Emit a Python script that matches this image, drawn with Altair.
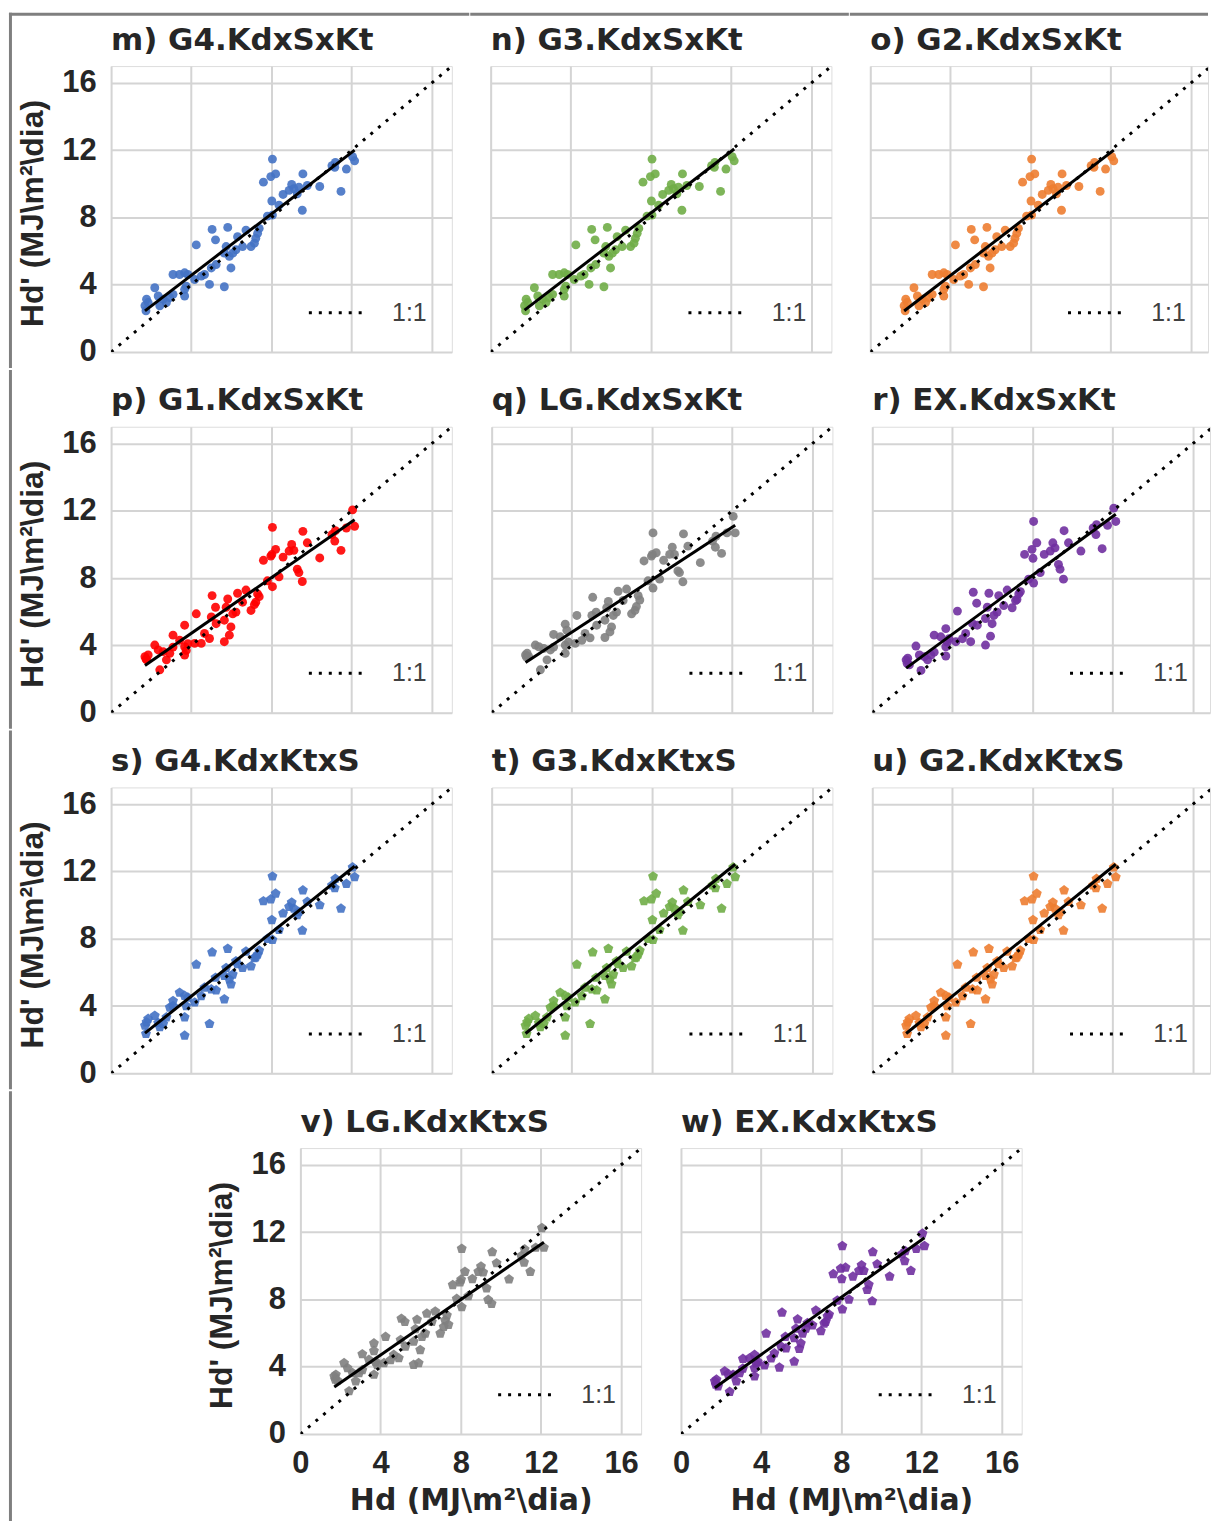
import altair as alt
import pandas as pd

# Observed daily diffuse irradiation Hd (MJ/m2/day), shared by every panel
hd_obs = [1.69, 1.74, 1.77, 1.85, 2.18, 2.35, 2.43, 2.60, 2.76, 2.93,
          3.09, 3.09, 3.42, 3.67, 3.67, 3.67, 3.75, 3.83, 4.17, 4.25,
          4.50, 4.66, 4.91, 5.00, 5.04, 5.21, 5.24, 5.65, 5.65, 5.74,
          5.82, 5.90, 5.98, 6.07, 6.23, 6.31, 6.56, 6.73, 6.98, 7.15,
          7.22, 7.31, 7.39, 7.60, 7.80, 7.97, 8.02, 8.05, 8.05, 8.21,
          8.38, 8.58, 8.88, 9.01, 9.12, 9.29, 9.37, 9.54, 9.57, 9.79,
          10.41, 11.02, 11.16, 11.19, 11.47, 11.74, 12.05, 12.15]

# Estimated Hd' for each model
est_m = [2.75, 2.45, 3.14, 2.94, 3.82, 3.33, 2.75, 3.14, 2.94, 3.24,
         3.43, 4.61, 4.61, 4.71, 3.33, 3.73, 3.92, 4.61, 4.31, 6.37,
         4.51, 4.61, 4.02, 5.00, 7.29, 6.67, 5.20, 3.88, 5.88, 6.27,
         7.41, 5.69, 5.00, 5.88, 6.08, 6.86, 6.27, 7.25, 6.27, 6.47,
         6.76, 7.06, 7.35, 10.10, 8.08, 10.43, 8.98, 8.14, 11.47, 10.59,
         8.73, 9.37, 9.61, 9.96, 9.71, 9.41, 9.80, 8.43, 10.59, 9.90,
         9.84, 11.08, 10.98, 11.27, 9.55, 10.88, 11.61, 11.37]
est_n = [2.75, 2.45, 3.14, 2.94, 3.82, 3.33, 2.75, 3.14, 2.94, 3.24,
         3.43, 4.61, 4.61, 4.71, 3.33, 3.73, 3.92, 4.61, 4.31, 6.37,
         4.51, 4.61, 4.02, 5.00, 7.29, 6.67, 5.20, 3.88, 5.88, 6.27,
         7.41, 5.69, 5.00, 5.88, 6.08, 6.86, 6.27, 7.25, 6.27, 6.47,
         6.76, 7.06, 7.35, 10.10, 8.08, 10.43, 8.98, 8.14, 11.47, 10.59,
         8.73, 9.37, 9.61, 9.96, 9.71, 9.41, 9.80, 8.43, 10.59, 9.90,
         9.84, 11.08, 10.98, 11.27, 9.55, 10.88, 11.61, 11.37]
est_o = [2.75, 2.45, 3.14, 2.94, 3.82, 3.33, 2.75, 3.14, 2.94, 3.24,
         3.43, 4.61, 4.61, 4.71, 3.33, 3.73, 3.92, 4.61, 4.31, 6.37,
         4.51, 4.61, 4.02, 5.00, 7.29, 6.67, 5.20, 3.88, 5.88, 6.27,
         7.41, 5.69, 5.00, 5.88, 6.08, 6.86, 6.27, 7.25, 6.27, 6.47,
         6.76, 7.06, 7.35, 10.10, 8.08, 10.43, 8.98, 8.14, 11.47, 10.59,
         8.73, 9.37, 9.61, 9.96, 9.71, 9.41, 9.80, 8.43, 10.59, 9.90,
         9.84, 11.08, 10.98, 11.27, 9.55, 10.88, 11.61, 11.37]
est_p = [3.33, 3.20, 3.14, 3.43, 4.02, 3.73, 2.55, 3.63, 3.14, 3.53,
         3.90, 4.61, 4.31, 5.20, 3.43, 3.92, 3.70, 4.10, 4.12, 5.88,
         4.12, 4.71, 4.41, 5.69, 6.96, 6.27, 5.29, 4.22, 5.50, 6.27,
         6.76, 4.61, 5.10, 5.88, 5.98, 7.10, 6.57, 7.29, 6.08, 6.43,
         6.57, 7.06, 6.90, 9.06, 7.84, 9.31, 9.40, 7.49, 11.02, 9.71,
         8.08, 9.25, 9.61, 10.00, 9.65, 8.53, 8.33, 7.80, 10.78, 10.10,
         9.20, 10.59, 10.20, 10.82, 9.65, 10.98, 12.06, 11.08]
est_q = [3.43, 3.30, 3.53, 3.33, 4.02, 3.92, 2.55, 3.82, 3.14, 3.73,
         3.90, 4.65, 4.51, 5.26, 3.53, 4.02, 4.90, 4.20, 4.12, 5.78,
         4.30, 4.71, 4.45, 5.78, 6.86, 5.98, 5.20, 4.47, 5.50, 6.24,
         6.61, 4.80, 5.10, 5.78, 5.98, 7.22, 6.67, 7.35, 5.88, 6.08,
         6.31, 6.96, 6.70, 9.02, 7.84, 9.31, 9.41, 7.41, 10.69, 9.51,
         7.94, 9.06, 9.41, 9.84, 9.41, 8.43, 8.33, 7.78, 10.63, 9.90,
         8.92, 10.20, 9.84, 10.49, 9.47, 10.69, 11.67, 10.69]
est_r = [3.14, 2.94, 3.24, 2.84, 3.96, 3.43, 2.51, 3.33, 3.14, 3.43,
         3.60, 4.61, 4.51, 5.00, 3.37, 3.92, 4.20, 4.40, 4.22, 6.04,
         4.40, 4.71, 4.22, 5.30, 7.16, 6.51, 5.20, 4.02, 5.60, 6.27,
         7.10, 4.55, 5.29, 5.78, 5.98, 6.96, 6.37, 7.29, 6.24, 6.67,
         6.73, 7.06, 7.20, 9.41, 7.94, 9.71, 9.18, 7.71, 11.37, 10.10,
         8.33, 9.41, 9.61, 10.10, 9.80, 8.82, 8.53, 7.94, 10.82, 10.10,
         9.61, 10.98, 10.59, 11.18, 9.75, 11.14, 12.16, 11.37]
est_s = [2.84, 2.35, 3.04, 3.24, 3.43, 3.00, 2.75, 2.94, 3.33, 3.92,
         4.31, 4.00, 4.80, 4.61, 3.33, 2.25, 4.00, 4.51, 4.22, 6.47,
         4.60, 5.10, 2.94, 5.00, 7.20, 5.69, 4.94, 4.41, 5.80, 6.27,
         7.41, 5.59, 5.30, 5.88, 6.67, 6.50, 6.27, 7.25, 6.37, 6.86,
         6.90, 7.06, 7.30, 10.24, 8.00, 10.35, 9.12, 7.94, 11.71, 10.69,
         8.53, 9.51, 9.90, 10.16, 9.80, 9.41, 9.60, 8.49, 10.88, 10.20,
         10.00, 11.18, 11.02, 11.57, 9.80, 11.27, 12.25, 11.67]
est_t = [2.84, 2.35, 3.04, 3.24, 3.43, 3.00, 2.75, 2.94, 3.33, 3.92,
         4.31, 4.00, 4.80, 4.61, 3.33, 2.25, 4.00, 4.51, 4.22, 6.47,
         4.60, 5.10, 2.94, 5.00, 7.20, 5.69, 4.94, 4.41, 5.80, 6.27,
         7.41, 5.59, 5.30, 5.88, 6.67, 6.50, 6.27, 7.25, 6.37, 6.86,
         6.90, 7.06, 7.30, 10.24, 8.00, 10.35, 9.12, 7.94, 11.71, 10.69,
         8.53, 9.51, 9.90, 10.16, 9.80, 9.41, 9.60, 8.49, 10.88, 10.20,
         10.00, 11.18, 11.02, 11.57, 9.80, 11.27, 12.25, 11.67]
est_u = [2.84, 2.35, 3.04, 3.24, 3.43, 3.00, 2.75, 2.94, 3.33, 3.92,
         4.31, 4.00, 4.80, 4.61, 3.33, 2.25, 4.00, 4.51, 4.22, 6.47,
         4.60, 5.10, 2.94, 5.00, 7.20, 5.69, 4.94, 4.41, 5.80, 6.27,
         7.41, 5.59, 5.30, 5.88, 6.67, 6.50, 6.27, 7.25, 6.37, 6.86,
         6.90, 7.06, 7.30, 10.24, 8.00, 10.35, 9.12, 7.94, 11.71, 10.69,
         8.53, 9.51, 9.90, 10.16, 9.80, 9.41, 9.60, 8.49, 10.88, 10.20,
         10.00, 11.18, 11.02, 11.57, 9.80, 11.27, 12.25, 11.67]
est_v = [3.43, 3.24, 3.53, 3.18, 4.22, 3.92, 2.55, 3.63, 3.14, 3.63,
         3.80, 4.75, 4.41, 5.39, 3.53, 4.94, 4.30, 4.10, 4.22, 5.78,
         4.40, 4.71, 4.51, 5.59, 6.86, 6.67, 5.20, 4.12, 5.50, 6.24,
         6.80, 4.22, 5.00, 5.78, 5.98, 7.16, 6.67, 7.29, 5.98, 6.37,
         6.76, 7.06, 6.50, 8.86, 8.04, 9.02, 9.18, 7.55, 11.02, 9.65,
         8.20, 9.22, 9.65, 9.96, 9.61, 8.67, 7.98, 7.75, 10.82, 10.16,
         9.20, 10.59, 10.20, 10.98, 9.65, 11.08, 12.25, 11.08]
est_w = [3.14, 2.94, 3.24, 2.84, 3.73, 3.57, 2.51, 3.53, 3.14, 3.63,
         3.90, 4.47, 4.51, 4.71, 3.43, 3.92, 4.20, 4.30, 4.08, 5.98,
         4.50, 4.80, 3.96, 5.20, 7.22, 5.78, 5.10, 4.31, 5.70, 6.27,
         6.82, 5.06, 5.39, 5.98, 6.27, 6.60, 6.47, 7.35, 6.12, 6.57,
         6.67, 7.00, 7.10, 9.51, 7.94, 9.84, 9.22, 7.41, 11.18, 9.90,
         8.00, 9.37, 9.71, 10.04, 9.71, 8.57, 8.88, 7.90, 10.82, 10.10,
         9.37, 10.69, 10.29, 10.88, 9.71, 11.02, 11.92, 11.18]

# Fitted line value at the smallest and largest observation
fit_m = [2.45, 12.00]
fit_n = [2.49, 12.07]
fit_o = [2.44, 12.00]
fit_p = [2.80, 11.47]
fit_q = [2.98, 11.14]
fit_r = [2.65, 11.80]
fit_s = [2.39, 12.31]
fit_t = [2.37, 12.43]
fit_u = [2.37, 12.43]
fit_v = [2.80, 11.40]
fit_w = [2.75, 11.67]

one_to_one = [0, 17]
axis_ticks = [0, 4, 8, 12, 16]

BLUE = "#4472C4"
GREEN = "#70AD47"
ORANGE = "#ED7D31"
RED = "#FF0000"
GRAY = "#808080"
PURPLE = "#7030A0"
PENTAGON = "M0,-1L0.951,-0.309L0.588,0.809L-0.588,0.809L-0.951,-0.309Z"

GRID = "#d4d4d4"
INK = "#262626"
FRAME = "#7f7f7f"
W, H = 342, 287
W_EDGE = 339          # right-hand column is cut by the figure edge
ONE = pd.DataFrame({"k": [0]})

# layout guides (pixels, relative to a panel's plot origin)
LEFT_REACH = 20       # how far a panel reaches left of its plot
RIGHT_REACH = 350     # how far a panel reaches right of its plot origin
GAP = 380 - RIGHT_REACH - LEFT_REACH
ROW_BOTTOM = 303      # where the frame piece of a row ends
ROW_TOP = -57         # where the frame piece of the next row starts


def x_axis(show):
    if show:
        return alt.Axis(values=axis_ticks, grid=True, gridColor=GRID, gridWidth=2,
                        domain=False, ticks=False, labelFlush=False, labelOverlap=False,
                        labelFont="Liberation Sans", labelFontSize=31, labelFontWeight="bold",
                        labelColor=INK, labelPadding=15,
                        title="Hd (MJ\\m²\\dia)", titleFont="DejaVu Sans", titleFontSize=30,
                        titleFontWeight="bold", titleColor=INK, titleX=W / 2, titleY=76,
                        titleBaseline="alphabetic", titleAlign="center")
    return alt.Axis(values=axis_ticks, grid=True, gridColor=GRID, gridWidth=2,
                    domain=False, ticks=False, labels=False, title=None)


def y_axis(show):
    if show:
        return alt.Axis(values=axis_ticks, grid=True, gridColor=GRID, gridWidth=2,
                        domain=False, ticks=False, labelFlush=False, labelOverlap=False,
                        labelFont="Liberation Sans", labelFontSize=31, labelFontWeight="bold",
                        labelColor=INK, labelPadding=15,
                        title="Hd' (MJ\\m²\\dia)", titleFont="Liberation Sans", titleFontSize=32,
                        titleFontWeight="bold", titleColor=INK, titleAngle=270,
                        titleX=-69, titleY=H / 2 + 4, titleBaseline="alphabetic",
                        titleAlign="center")
    return alt.Axis(values=axis_ticks, grid=True, gridColor=GRID, gridWidth=2,
                    domain=False, ticks=False, labels=False, title=None)


LEGEND = alt.Legend(title=None, orient="none", legendX=197, legendY=219, padding=0,
                    symbolType="stroke", symbolSize=2916, symbolStrokeWidth=3,
                    symbolStrokeColor="black", labelFont="Liberation Sans",
                    labelFontSize=25, labelColor="#404040", labelOffset=28)


def frame_piece(x0, x1, y0, y1):
    # a piece of the gray figure frame, drawn as a filled bar
    return alt.Chart(ONE).mark_rect(color=FRAME).encode(
        x=alt.value(x0), x2=alt.value(x1), y=alt.value(y0), y2=alt.value(y1))


def left_edge(y0, y1):
    return frame_piece(-102.5, -99.5, y0, y1)


def top_edge(x0, x1):
    return frame_piece(x0, x1, -53.5, -50.5)


def strut(x):
    # invisible marker that fixes how far a panel reaches sideways
    return alt.Chart(ONE).mark_rule(opacity=0, strokeWidth=1).encode(
        x=alt.value(x), y=alt.value(0), y2=alt.value(1))


def panel(title, est, fit, color, shape, size, show_x, show_y, extra=(), width=W):
    x_max = 17 * width / W
    x_scale = alt.Scale(domain=[0, round(x_max, 3)], nice=False, zero=False)
    y_scale = alt.Scale(domain=[0, 17], nice=False, zero=False)
    x_enc = alt.X("Hd:Q", scale=x_scale, axis=x_axis(show_x))
    y_enc = alt.Y("Hd_est:Q", scale=y_scale, axis=y_axis(show_y))

    pts = pd.DataFrame({"Hd": hd_obs, "Hd_est": est})
    points = alt.Chart(pts).mark_point(
        filled=True, shape=shape, size=size, color=color, opacity=0.9, strokeWidth=0
    ).encode(x=x_enc, y=y_enc)

    fit_df = pd.DataFrame({"Hd": [min(hd_obs), max(hd_obs)], "Hd_est": fit})
    fit_line = alt.Chart(fit_df).mark_line(color="black", strokeWidth=3).encode(x=x_enc, y=y_enc)

    diag_df = pd.DataFrame({"Hd": one_to_one, "Hd_est": one_to_one, "ref": ["1:1", "1:1"]})
    diag = alt.Chart(diag_df).mark_line(
        color="black", strokeWidth=3, strokeCap="butt", clip=True
    ).encode(
        x=x_enc, y=y_enc,
        strokeDash=alt.StrokeDash("ref:N", scale=alt.Scale(domain=["1:1"], range=[[3, 7]]),
                                  legend=LEGEND),
    )

    heading = alt.Chart(ONE).mark_text(
        align="left", baseline="alphabetic", font="DejaVu Sans", fontSize=31,
        fontWeight="bold", color=INK
    ).encode(x=alt.value(0), y=alt.value(-16.5), text=alt.value(title))

    return alt.layer(points, fit_line, diag, heading, *extra).properties(width=width, height=H)


def row(*charts, spacing):
    return alt.hconcat(*charts, spacing=spacing).resolve_scale(
        strokeDash="independent").resolve_legend(strokeDash="independent")


CIRCLE_SIZE = 80
PENTA_SIZE = 110

row1 = row(
    panel("m) G4.KdxSxKt", est_m, fit_m, BLUE, "circle", CIRCLE_SIZE, False, True,
          extra=(left_edge(-53.5, ROW_BOTTOM), top_edge(-102.5, 359.5))),
    panel("n) G3.KdxSxKt", est_n, fit_n, GREEN, "circle", CIRCLE_SIZE, False, False,
          extra=(top_edge(-20.5, 359.5),)),
    panel("o) G2.KdxSxKt", est_o, fit_o, ORANGE, "circle", CIRCLE_SIZE, False, False,
          extra=(top_edge(-20.5, W_EDGE),), width=W_EDGE),
    spacing=0,
)
row2 = row(
    panel("p) G1.KdxSxKt", est_p, fit_p, RED, "circle", CIRCLE_SIZE, False, True,
          extra=(left_edge(ROW_TOP, ROW_BOTTOM), strut(RIGHT_REACH))),
    panel("q) LG.KdxSxKt", est_q, fit_q, GRAY, "circle", CIRCLE_SIZE, False, False,
          extra=(strut(-LEFT_REACH), strut(RIGHT_REACH))),
    panel("r) EX.KdxSxKt", est_r, fit_r, PURPLE, "circle", CIRCLE_SIZE, False, False,
          extra=(strut(-LEFT_REACH),), width=W_EDGE),
    spacing=GAP,
)
row3 = row(
    panel("s) G4.KdxKtxS", est_s, fit_s, BLUE, PENTAGON, PENTA_SIZE, False, True,
          extra=(left_edge(ROW_TOP, ROW_BOTTOM), strut(RIGHT_REACH))),
    panel("t) G3.KdxKtxS", est_t, fit_t, GREEN, PENTAGON, PENTA_SIZE, False, False,
          extra=(strut(-LEFT_REACH), strut(RIGHT_REACH))),
    panel("u) G2.KdxKtxS", est_u, fit_u, ORANGE, PENTAGON, PENTA_SIZE, False, False,
          extra=(strut(-LEFT_REACH),), width=W_EDGE),
    spacing=GAP,
)
# the last row is shifted half a panel to the right
lead = alt.layer(left_edge(ROW_TOP, 375)).properties(
    width=38.5, height=H, view=alt.ViewBackground(stroke="transparent"))
row4 = row(
    row(
        lead,
        panel("v) LG.KdxKtxS", est_v, fit_v, GRAY, PENTAGON, PENTA_SIZE, True, True,
              extra=(strut(-150), strut(RIGHT_REACH))),
        spacing=0,
    ),
    panel("w) EX.KdxKtxS", est_w, fit_w, PURPLE, PENTAGON, PENTA_SIZE, True, False,
          extra=(strut(-LEFT_REACH),)),
    spacing=GAP,
)

chart = alt.vconcat(row1, row2, row3, row4, spacing=0).resolve_scale(
    strokeDash="independent").resolve_legend(strokeDash="independent").properties(
    padding={"left": 8.5, "top": 9.5, "right": 0, "bottom": 0}
).configure_view(stroke=GRID, strokeWidth=2).configure(background="white")

chart.save("out.html", embed_options={"renderer": "svg", "actions": False})
